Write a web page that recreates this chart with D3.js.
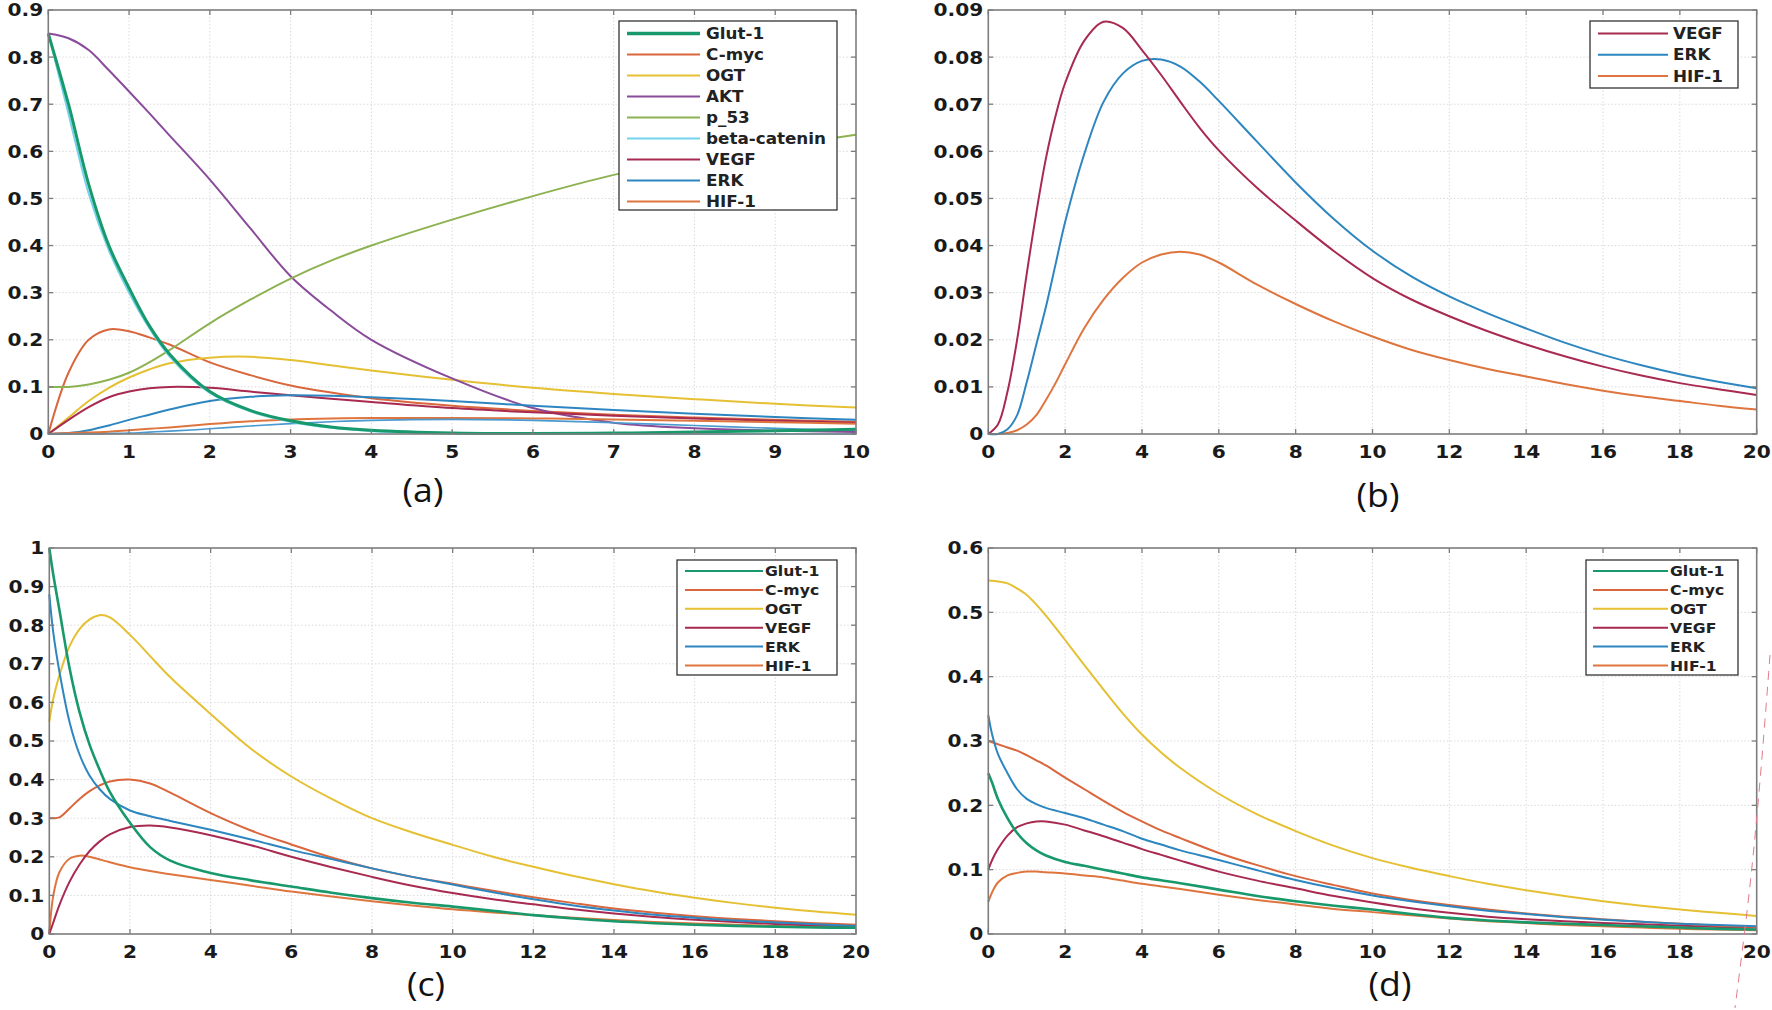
<!DOCTYPE html>
<html>
<head>
<meta charset="utf-8">
<script src="https://cdn.jsdelivr.net/npm/d3@7"></script>
<style>
  body { margin: 0; background: #fff; }
  svg { display: block; }
</style>
</head>
<body>
<div id="chart"></div>
<script>
// ---- data ----
const panelLabels = ['(a)', '(b)', '(c)', '(d)'];

// panel (a): t = 0..10
const timeA = [0, 0.25, 0.5, 0.75, 1, 1.25, 1.5, 2, 2.5, 3, 3.5, 4, 5, 6, 7, 8, 9, 10];
const glutA = [0.85, 0.70, 0.53, 0.40, 0.31, 0.23, 0.17, 0.09, 0.05, 0.028, 0.015, 0.008, 0.002, 0.001, 0.002, 0.004, 0.007, 0.01];
const cmycA = [0, 0.13, 0.20, 0.222, 0.218, 0.205, 0.19, 0.152, 0.125, 0.103, 0.088, 0.076, 0.06, 0.049, 0.041, 0.035, 0.03, 0.026];
const ogtA = [0, 0.035, 0.07, 0.098, 0.12, 0.137, 0.15, 0.162, 0.164, 0.157, 0.146, 0.135, 0.115, 0.098, 0.085, 0.074, 0.064, 0.056];
const aktA = [0.85, 0.84, 0.815, 0.772, 0.727, 0.681, 0.634, 0.54, 0.437, 0.335, 0.262, 0.2, 0.118, 0.055, 0.024, 0.012, 0.007, 0.004];
const p53A = [0.10, 0.10, 0.105, 0.115, 0.13, 0.152, 0.178, 0.235, 0.285, 0.33, 0.368, 0.40, 0.455, 0.505, 0.55, 0.585, 0.61, 0.635];
const betaA = [0.85, 0.68, 0.51, 0.39, 0.30, 0.225, 0.165, 0.087, 0.048, 0.026, 0.013, 0.006, 0.001, 0, 0, 0, 0, 0];
const vegfA = [0, 0.03, 0.057, 0.078, 0.09, 0.097, 0.1, 0.098, 0.09, 0.082, 0.075, 0.068, 0.055, 0.046, 0.039, 0.033, 0.028, 0.024];
const erkA = [0, 0.002, 0.008, 0.018, 0.03, 0.041, 0.052, 0.07, 0.079, 0.082, 0.081, 0.078, 0.07, 0.06, 0.051, 0.043, 0.036, 0.03];
const hifA = [0, 0.002, 0.003, 0.005, 0.008, 0.011, 0.014, 0.021, 0.027, 0.031, 0.033, 0.034, 0.034, 0.033, 0.031, 0.028, 0.025, 0.022];
const extraA = [0, 0, 0, 0.001, 0.002, 0.004, 0.006, 0.011, 0.017, 0.022, 0.026, 0.029, 0.031, 0.029, 0.024, 0.018, 0.012, 0.008]; // unlabelled faint blue trace

// panel (b): t = 0..20
const timeB = [0, 0.25, 0.5, 0.75, 1, 1.25, 1.5, 1.75, 2, 2.5, 3, 3.5, 4, 4.5, 5, 5.5, 6, 7, 8, 9, 10, 11, 12, 13, 14, 15, 16, 17, 18, 19, 20];
const vegfB = [0, 0.002, 0.009, 0.02, 0.034, 0.047, 0.0585, 0.0675, 0.0745, 0.0835, 0.0875, 0.0862, 0.0815, 0.0762, 0.0705, 0.065, 0.0602, 0.0522, 0.0453, 0.0388, 0.0331, 0.0286, 0.025, 0.0218, 0.019, 0.0165, 0.0143, 0.0124, 0.0108, 0.0095, 0.0083];
const erkB = [0, 0, 0.001, 0.004, 0.011, 0.019, 0.027, 0.036, 0.045, 0.0595, 0.0705, 0.0765, 0.0792, 0.0795, 0.078, 0.0748, 0.0707, 0.062, 0.0534, 0.0456, 0.0389, 0.0335, 0.0292, 0.0256, 0.0224, 0.0194, 0.0168, 0.0146, 0.0127, 0.0111, 0.0097];
const hifB = [0, 0, 0.0002, 0.0008, 0.002, 0.004, 0.0072, 0.0108, 0.0148, 0.0225, 0.0285, 0.0331, 0.0364, 0.0381, 0.0387, 0.0381, 0.0364, 0.0317, 0.0276, 0.0239, 0.0207, 0.0179, 0.0157, 0.0138, 0.0122, 0.0106, 0.0092, 0.008, 0.007, 0.006, 0.0052];

// panel (c): t = 0..20
const timeC = [0, 0.1, 0.25, 0.5, 0.75, 1, 1.25, 1.5, 2, 2.5, 3, 4, 5, 6, 7, 8, 9, 10, 11, 12, 13, 14, 15, 16, 17, 18, 19, 20];
const glutC = [1.0, 0.93, 0.84, 0.69, 0.575, 0.49, 0.425, 0.368, 0.288, 0.225, 0.19, 0.158, 0.139, 0.123, 0.107, 0.093, 0.081, 0.071, 0.06, 0.049, 0.04, 0.033, 0.028, 0.024, 0.021, 0.019, 0.017, 0.016];
const cmycC = [0.30, 0.30, 0.302, 0.325, 0.35, 0.37, 0.385, 0.395, 0.40, 0.39, 0.366, 0.313, 0.268, 0.232, 0.198, 0.17, 0.148, 0.13, 0.112, 0.095, 0.08, 0.066, 0.055, 0.046, 0.039, 0.033, 0.028, 0.024];
const ogtC = [0.55, 0.61, 0.67, 0.745, 0.79, 0.815, 0.826, 0.82, 0.775, 0.72, 0.665, 0.57, 0.48, 0.408, 0.35, 0.30, 0.263, 0.231, 0.2, 0.174, 0.15, 0.129, 0.11, 0.094, 0.08, 0.068, 0.058, 0.05];
const vegfC = [0, 0.03, 0.075, 0.135, 0.18, 0.215, 0.24, 0.258, 0.277, 0.281, 0.276, 0.256, 0.23, 0.2, 0.173, 0.148, 0.125, 0.106, 0.09, 0.077, 0.064, 0.053, 0.044, 0.037, 0.031, 0.026, 0.022, 0.019];
const erkC = [0.88, 0.78, 0.68, 0.55, 0.465, 0.41, 0.375, 0.35, 0.32, 0.305, 0.293, 0.27, 0.245, 0.218, 0.194, 0.17, 0.148, 0.128, 0.108, 0.09, 0.074, 0.061, 0.05, 0.042, 0.035, 0.03, 0.025, 0.021];
const hifC = [0, 0.1, 0.16, 0.195, 0.203, 0.2, 0.193, 0.186, 0.173, 0.163, 0.155, 0.14, 0.125, 0.11, 0.097, 0.085, 0.074, 0.064, 0.056, 0.049, 0.042, 0.036, 0.031, 0.027, 0.024, 0.021, 0.018, 0.016];

// panel (d): t = 0..20
const timeD = [0, 0.1, 0.25, 0.5, 0.75, 1, 1.25, 1.5, 2, 2.5, 3, 3.5, 4, 4.5, 5, 6, 7, 8, 9, 10, 11, 12, 13, 14, 15, 16, 17, 18, 19, 20];
const glutD = [0.25, 0.235, 0.21, 0.18, 0.157, 0.141, 0.13, 0.122, 0.112, 0.106, 0.1, 0.094, 0.088, 0.0835, 0.079, 0.069, 0.059, 0.051, 0.044, 0.038, 0.031, 0.025, 0.021, 0.018, 0.016, 0.014, 0.012, 0.01, 0.008, 0.007];
const cmycD = [0.30, 0.298, 0.295, 0.29, 0.285, 0.278, 0.27, 0.262, 0.243, 0.225, 0.207, 0.19, 0.175, 0.161, 0.149, 0.126, 0.107, 0.09, 0.076, 0.063, 0.053, 0.045, 0.038, 0.032, 0.027, 0.023, 0.019, 0.016, 0.013, 0.011];
const ogtD = [0.55, 0.549, 0.548, 0.545, 0.537, 0.527, 0.512, 0.495, 0.457, 0.418, 0.38, 0.343, 0.31, 0.282, 0.258, 0.218, 0.186, 0.16, 0.137, 0.118, 0.103, 0.09, 0.078, 0.068, 0.059, 0.051, 0.044, 0.038, 0.033, 0.028];
const vegfD = [0.10, 0.115, 0.132, 0.153, 0.166, 0.172, 0.175, 0.175, 0.17, 0.161, 0.152, 0.142, 0.132, 0.123, 0.114, 0.097, 0.083, 0.071, 0.059, 0.049, 0.04, 0.033, 0.027, 0.023, 0.02, 0.017, 0.015, 0.013, 0.011, 0.01];
const erkD = [0.34, 0.31, 0.28, 0.25, 0.225, 0.21, 0.202, 0.196, 0.188, 0.18, 0.17, 0.16, 0.148, 0.139, 0.13, 0.115, 0.099, 0.084, 0.071, 0.06, 0.051, 0.043, 0.036, 0.031, 0.026, 0.022, 0.019, 0.016, 0.014, 0.012];
const hifD = [0.05, 0.065, 0.08, 0.091, 0.095, 0.097, 0.097, 0.096, 0.094, 0.091, 0.088, 0.083, 0.078, 0.074, 0.07, 0.061, 0.053, 0.046, 0.039, 0.034, 0.029, 0.024, 0.02, 0.017, 0.014, 0.012, 0.01, 0.008, 0.007, 0.006];

// tick labels
const xTicksA = [0, 1, 2, 3, 4, 5, 6, 7, 8, 9, 10];
const xTicks20 = [0, 2, 4, 6, 8, 10, 12, 14, 16, 18, 20];
const yTicksA = [0, 0.1, 0.2, 0.3, 0.4, 0.5, 0.6, 0.7, 0.8, 0.9];
const yTicksB = [0, 0.01, 0.02, 0.03, 0.04, 0.05, 0.06, 0.07, 0.08, 0.09];
const yTicksC = [0, 0.1, 0.2, 0.3, 0.4, 0.5, 0.6, 0.7, 0.8, 0.9, 1];
const yTicksD = [0, 0.1, 0.2, 0.3, 0.4, 0.5, 0.6];

// ---- styles ----
const colors = {
  glut: '#18996b', cmyc: '#d9663c', ogt: '#e5c033', akt: '#8a4b9b', p53: '#8db252',
  beta: '#74d3ea', vegf: '#a82a50', erk: '#2d86c0', hif: '#df753e', extra: '#4a9ad0'
};
const TICK_FONT = '"DejaVu Sans", sans-serif';
const SX = 1.12; // figure text looks horizontally stretched

const W = 1772, H = 1010;
const svg = d3.select('#chart').append('svg')
  .attr('width', W).attr('height', H)
  .style('background', '#fff');

function stretchedText(g, x, y, str, opts) {
  return g.append('text')
    .attr('transform', `translate(${x},${y}) scale(${opts.sx || SX},1)`)
    .attr('text-anchor', opts.anchor || 'start')
    .attr('dy', opts.dy || 0)
    .style('font-family', opts.family || TICK_FONT)
    .style('font-size', opts.size + 'px')
    .style('font-weight', opts.weight || 'bold')
    .style('fill', opts.fill || '#1a1a1a')
    .text(str);
}

const fmt = v => String(+v.toFixed(3));

function drawPanel(p) {
  const x = d3.scaleLinear().domain(p.xDomain).range([p.left, p.right]);
  const y = d3.scaleLinear().domain(p.yDomain).range([p.bottom, p.top]);
  const g = svg.append('g');

  // dotted grid
  g.selectAll('.gx').data(p.xTicks.slice(1, -1)).join('line')
    .attr('x1', d => x(d)).attr('x2', d => x(d))
    .attr('y1', p.top).attr('y2', p.bottom)
    .attr('stroke', '#dadada').attr('stroke-width', 1).attr('stroke-dasharray', '1.5,2');
  g.selectAll('.gy').data(p.yTicks.slice(1, -1)).join('line')
    .attr('x1', p.left).attr('x2', p.right)
    .attr('y1', d => y(d)).attr('y2', d => y(d))
    .attr('stroke', '#dadada').attr('stroke-width', 1).attr('stroke-dasharray', '1.5,2');

  // series
  const line = d3.line()
    .x(d => x(d[0])).y(d => y(Math.max(0, d[1])))
    .curve(d3.curveCatmullRom.alpha(0.5));
  p.series.forEach(s => {
    g.append('path')
      .datum(p.time.map((t, i) => [t, s.values[i]]))
      .attr('d', line)
      .attr('fill', 'none')
      .attr('stroke', s.color)
      .attr('stroke-width', s.width || 2)
      .attr('stroke-linejoin', 'round');
  });

  // box + inward ticks on all sides
  const tl = 5;
  const axisCol = '#7d7d7d';
  g.append('rect')
    .attr('x', p.left).attr('y', p.top)
    .attr('width', p.right - p.left).attr('height', p.bottom - p.top)
    .attr('fill', 'none').attr('stroke', axisCol).attr('stroke-width', 1.6);
  p.xTicks.forEach(v => {
    g.append('line').attr('x1', x(v)).attr('x2', x(v)).attr('y1', p.bottom).attr('y2', p.bottom - tl)
      .attr('stroke', axisCol).attr('stroke-width', 1.3);
    g.append('line').attr('x1', x(v)).attr('x2', x(v)).attr('y1', p.top).attr('y2', p.top + tl)
      .attr('stroke', axisCol).attr('stroke-width', 1.3);
    stretchedText(g, x(v), p.bottom + 24, fmt(v), { size: 18, anchor: 'middle' });
  });
  p.yTicks.forEach(v => {
    g.append('line').attr('y1', y(v)).attr('y2', y(v)).attr('x1', p.left).attr('x2', p.left + tl)
      .attr('stroke', axisCol).attr('stroke-width', 1.3);
    g.append('line').attr('y1', y(v)).attr('y2', y(v)).attr('x1', p.right).attr('x2', p.right - tl)
      .attr('stroke', axisCol).attr('stroke-width', 1.3);
    stretchedText(g, p.left - 5, y(v), fmt(v), { size: 18, anchor: 'end', dy: '0.36em' });
  });

  // legend
  const L = p.legend;
  const rows = p.series.filter(s => s.name);
  g.append('rect')
    .attr('x', L.x0).attr('y', L.y0)
    .attr('width', L.x1 - L.x0).attr('height', L.y1 - L.y0)
    .attr('fill', '#fff').attr('stroke', '#333').attr('stroke-width', 1.3);
  p.legendOrder.forEach((name, i) => {
    const s = rows.find(r => r.name === name);
    const yy = L.row0 + i * L.step;
    g.append('line')
      .attr('x1', L.lx0).attr('x2', L.lx1).attr('y1', yy).attr('y2', yy)
      .attr('stroke', s.color).attr('stroke-width', s.legendWidth || 2);
    stretchedText(g, L.tx, yy, name, { size: L.size, dy: '0.36em', weight: 'bold', fill: '#222' });
  });

  // panel caption
  stretchedText(svg, p.label.x, p.label.y, p.label.text,
    { size: 33, anchor: 'middle', family: '"Open Sans", "Noto Sans", sans-serif', weight: 'normal', sx: 1.08, fill: '#111' });
}

const panels = [
  {
    left: 48.3, right: 856, top: 10, bottom: 434,
    xDomain: [0, 10], yDomain: [0, 0.9], xTicks: xTicksA, yTicks: yTicksA, time: timeA,
    series: [
      { name: 'C-myc', values: cmycA, color: colors.cmyc },
      { name: 'OGT', values: ogtA, color: colors.ogt },
      { name: 'AKT', values: aktA, color: colors.akt },
      { name: 'p_53', values: p53A, color: colors.p53 },
      { name: 'VEGF', values: vegfA, color: colors.vegf },
      { name: 'ERK', values: erkA, color: colors.erk },
      { name: 'HIF-1', values: hifA, color: colors.hif },
      { name: null, values: extraA, color: colors.extra, width: 1.6 },
      { name: 'beta-catenin', values: betaA, color: colors.beta },
      { name: 'Glut-1', values: glutA, color: colors.glut, width: 3, legendWidth: 3.5 }
    ],
    legendOrder: ['Glut-1', 'C-myc', 'OGT', 'AKT', 'p_53', 'beta-catenin', 'VEGF', 'ERK', 'HIF-1'],
    legend: { x0: 619, x1: 837, y0: 21, y1: 210, row0: 33.5, step: 21, lx0: 627, lx1: 700, tx: 706, size: 15 },
    label: { text: panelLabels[0], x: 423, y: 502 }
  },
  {
    left: 988.3, right: 1756.7, top: 10, bottom: 434,
    xDomain: [0, 20], yDomain: [0, 0.09], xTicks: xTicks20, yTicks: yTicksB, time: timeB,
    series: [
      { name: 'HIF-1', values: hifB, color: colors.hif },
      { name: 'ERK', values: erkB, color: colors.erk },
      { name: 'VEGF', values: vegfB, color: colors.vegf }
    ],
    legendOrder: ['VEGF', 'ERK', 'HIF-1'],
    legend: { x0: 1590, x1: 1738, y0: 21, y1: 88, row0: 33.5, step: 21.3, lx0: 1598, lx1: 1668, tx: 1673, size: 15 },
    label: { text: panelLabels[1], x: 1378, y: 507 }
  },
  {
    left: 49.3, right: 856, top: 548, bottom: 934,
    xDomain: [0, 20], yDomain: [0, 1], xTicks: xTicks20, yTicks: yTicksC, time: timeC,
    series: [
      { name: 'HIF-1', values: hifC, color: colors.hif },
      { name: 'VEGF', values: vegfC, color: colors.vegf },
      { name: 'C-myc', values: cmycC, color: colors.cmyc },
      { name: 'OGT', values: ogtC, color: colors.ogt },
      { name: 'ERK', values: erkC, color: colors.erk },
      { name: 'Glut-1', values: glutC, color: colors.glut, width: 2.6 }
    ],
    legendOrder: ['Glut-1', 'C-myc', 'OGT', 'VEGF', 'ERK', 'HIF-1'],
    legend: { x0: 677, x1: 837, y0: 560, y1: 675, row0: 571, step: 18.9, lx0: 685, lx1: 763, tx: 765, size: 14 },
    label: { text: panelLabels[2], x: 426, y: 996 }
  },
  {
    left: 988.3, right: 1756.7, top: 548, bottom: 934,
    xDomain: [0, 20], yDomain: [0, 0.6], xTicks: xTicks20, yTicks: yTicksD, time: timeD,
    series: [
      { name: 'HIF-1', values: hifD, color: colors.hif },
      { name: 'VEGF', values: vegfD, color: colors.vegf },
      { name: 'C-myc', values: cmycD, color: colors.cmyc },
      { name: 'OGT', values: ogtD, color: colors.ogt },
      { name: 'ERK', values: erkD, color: colors.erk },
      { name: 'Glut-1', values: glutD, color: colors.glut, width: 2.6 }
    ],
    legendOrder: ['Glut-1', 'C-myc', 'OGT', 'VEGF', 'ERK', 'HIF-1'],
    legend: { x0: 1586, x1: 1738, y0: 560, y1: 675, row0: 571, step: 18.9, lx0: 1593, lx1: 1668, tx: 1670, size: 14 },
    label: { text: panelLabels[3], x: 1390, y: 996 }
  }
];

panels.forEach(drawPanel);

// faint red dashed pen stroke at the right edge of panel (d) in the scan
svg.append('path')
  .attr('d', d3.line().curve(d3.curveBasis)([[1770, 655], [1762, 760], [1753, 860], [1745, 930], [1735, 1008]]))
  .attr('fill', 'none').attr('stroke', '#e47a88').attr('stroke-width', 1)
  .attr('stroke-dasharray', '9,7');
</script>
</body>
</html>
